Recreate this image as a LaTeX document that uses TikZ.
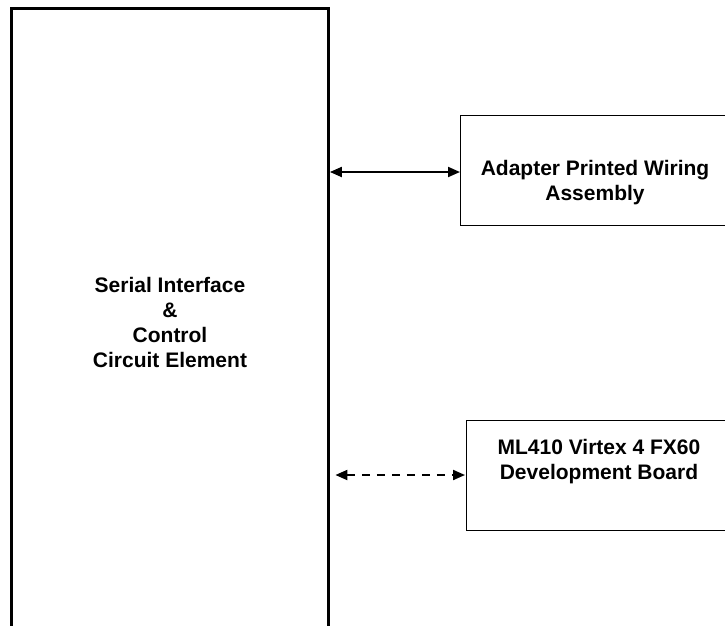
\documentclass[tikz,border=0pt]{standalone}
\usepackage{fontspec}
\setmainfont{Liberation Sans}
\usetikzlibrary{arrows.meta}
\begin{document}
\begin{tikzpicture}[x=1pt,y=-1pt,
  txt/.style={font=\bfseries\fontsize{21}{25}\selectfont, align=center, inner sep=0pt},
  thinbox/.style={draw=black, line width=1.2pt, rectangle, inner sep=0pt, anchor=north west},
  biarrow/.style={line width=2pt, {Triangle[length=12pt,width=10pt]}-{Triangle[length=12pt,width=10pt]}},
]
\useasboundingbox (0,0) rectangle (725,625);
\clip (0,0) rectangle (725,625);
\fill[white] (0,0) rectangle (725,625);
% big box (open at the bottom of the picture)
\node[inner sep=0pt, minimum width=317pt, minimum height=650pt, anchor=north west] (sic) at (11,8) {};
\draw[line width=3pt] (sic.south west) -- (sic.north west) -- (sic.north east) -- (sic.south east);
\node[txt] (sictext) at (170,322) {Serial Interface\\\&\\Control\\Circuit Element};
% adapter box
\node[thinbox, minimum width=300pt, minimum height=110pt] (apwa) at (460,115) {};
\node[txt] (apwatext) at (595,183) {Adapter Printed Wiring\\Assembly};
% ML410 box
\node[thinbox, minimum width=300pt, minimum height=110pt] (ml) at (466,420) {};
\node[txt] (mltext) at (599,462) {ML410 Virtex 4 FX60\\Development Board};
% connectors
\coordinate (y1) at (0,172);
\coordinate (y2) at (0,475);
\draw[biarrow, shorten <=1.5pt] (sic.east |- y1) -- (apwa.west |- y1);
\draw[biarrow, dash pattern=on 8pt off 7pt, shorten <=7pt, shorten >=1pt] (sic.east |- y2) -- (ml.west |- y2);
\end{tikzpicture}
\end{document}
